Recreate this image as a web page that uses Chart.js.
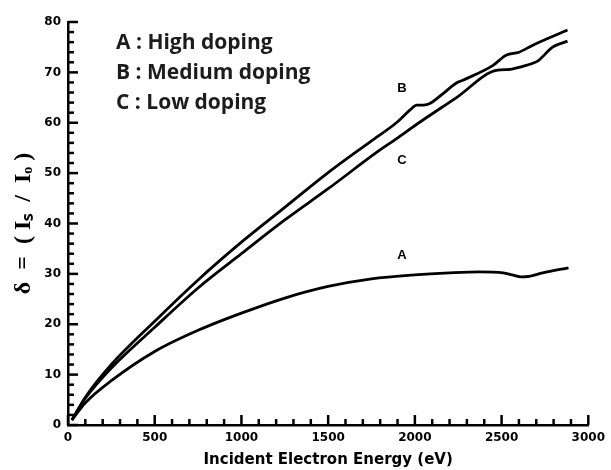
<!DOCTYPE html>
<html>
<head>
<meta charset="utf-8">
<script src="https://cdn.jsdelivr.net/npm/chart.js@4.4.1/dist/chart.umd.min.js"></script>
<style>
  html, body { margin: 0; padding: 0; background: #fff; }
  #wrap { width: 611px; height: 470px; }
</style>
</head>
<body>
<div id="wrap"><canvas id="yieldChart"></canvas></div>
<script>
// curve A : high doping
var energyA = [23, 100, 250, 500, 750, 1000, 1250, 1500, 1750, 2000, 2200, 2371, 2509, 2560, 2611, 2660, 2737, 2886];
var yieldA  = [1.0, 4.4, 8.8, 14.6, 18.8, 22.2, 25.2, 27.5, 29.0, 29.8, 30.2, 30.4, 30.2, 29.8, 29.4, 29.5, 30.2, 31.2];

// curve B : medium doping
var energyB = [23, 100, 250, 500, 750, 1000, 1250, 1500, 1750, 1897, 1971, 2011, 2050, 2086, 2166, 2240, 2280, 2451, 2526, 2600, 2680, 2880];
var yieldB  = [1.0, 5.5, 12.0, 20.6, 28.8, 36.3, 43.2, 50.1, 56.4, 60.1, 62.5, 63.5, 63.5, 63.8, 65.9, 67.9, 68.5, 71.4, 73.4, 74.0, 75.4, 78.4];

// curve C : low doping
var energyC = [23, 100, 250, 500, 750, 1000, 1250, 1500, 1783, 1897, 2011, 2240, 2469, 2550, 2600, 2680, 2714, 2794, 2880];
var yieldC  = [1.0, 5.3, 11.3, 19.4, 27.2, 34.0, 40.7, 46.9, 54.2, 56.9, 59.7, 65.0, 70.4, 70.6, 71.0, 71.8, 72.4, 75.0, 76.2];

var legendLines = ["A : High doping", "B : Medium doping", "C : Low doping"];
var curveTags = [
  {text: "A", x: 1926, y: 33.7},
  {text: "B", x: 1926, y: 66.9},
  {text: "C", x: 1926, y: 52.6}
];

function pts(xs, ys) {
  return xs.map(function (x, i) { return {x: x, y: ys[i]}; });
}

function curve(label, xs, ys) {
  return {
    label: label,
    data: pts(xs, ys),
    borderColor: '#000',
    borderWidth: 2.8,
    pointRadius: 0,
    cubicInterpolationMode: 'monotone',
    fill: false
  };
}

// inward tick marks, A/B/C tags and the key text
var decorations = {
  id: 'decorations',
  afterDraw: function (chart) {
    var ctx = chart.ctx;
    var xs = chart.scales.x, ys = chart.scales.y;
    var area = chart.chartArea;
    var bottom = ys.getPixelForValue(0);
    var left = xs.getPixelForValue(0);
    ctx.save();
    ctx.fillStyle = '#000';
    for (var e = 0; e <= 3000; e += 100) {
      var px = xs.getPixelForValue(e);
      var len = (e % 500 === 0) ? 10 : 6;
      ctx.fillRect(px - 1.25, bottom - len, 2.5, len);
    }
    for (var v = 0; v <= 80; v += 2) {
      var py = ys.getPixelForValue(v);
      var l2 = (v % 10 === 0) ? 10 : 6;
      ctx.fillRect(left, py - 1.25, l2, 2.5);
    }

    ctx.font = 'bold 13px "Liberation Sans", Arial, sans-serif';
    ctx.textAlign = 'center';
    ctx.textBaseline = 'middle';
    curveTags.forEach(function (t) {
      ctx.fillText(t.text, xs.getPixelForValue(t.x), ys.getPixelForValue(t.y));
    });

    ctx.fillStyle = '#1c1c1c';
    ctx.font = 'bold 21px "Open Sans", Lato, sans-serif';
    ctx.textAlign = 'left';
    legendLines.forEach(function (s, i) {
      ctx.fillText(s, area.left + 48, area.top + 21 + i * 30);
    });
    ctx.restore();
  }
};

var tickFont = { family: '"DejaVu Sans", sans-serif', size: 12, weight: 'bold' };

new Chart(document.getElementById('yieldChart'), {
  type: 'line',
  data: {
    datasets: [
      curve('A', energyA, yieldA),
      curve('B', energyB, yieldB),
      curve('C', energyC, yieldC)
    ]
  },
  options: {
    responsive: true,
    maintainAspectRatio: false,
    animation: false,
    layout: { padding: { top: 22, right: 18, left: 0, bottom: 0 } },
    plugins: { legend: { display: false }, tooltip: { enabled: false } },
    scales: {
      x: {
        type: 'linear',
        min: 0, max: 3000,
        afterFit: function (s) { s.height = 45; },
        ticks: {
          stepSize: 500,
          color: '#000',
          padding: 6,
          maxRotation: 0,
          font: tickFont,
          callback: function (val) { return String(val); }
        },
        grid: { drawOnChartArea: false, drawTicks: false },
        border: { color: '#000', width: 2.5 },
        title: {
          display: true,
          text: 'Incident Electron Energy (eV)',
          color: '#000',
          padding: { top: 0, bottom: 1 },
          font: { family: '"DejaVu Sans", sans-serif', size: 15, weight: 'bold' }
        }
      },
      y: {
        min: 0, max: 80,
        afterFit: function (s) { s.width = 68; },
        ticks: {
          stepSize: 10,
          color: '#000',
          padding: 7,
          font: tickFont
        },
        grid: { drawOnChartArea: false, drawTicks: false },
        border: { color: '#000', width: 2.5 },
        title: {
          display: true,
          text: 'δ  =  ( Iₛ  /  Iₒ )',
          color: '#000',
          padding: { top: 9, bottom: 0 },
          font: { family: '"Liberation Serif", serif', size: 24, weight: 'bold' }
        }
      }
    }
  },
  plugins: [decorations]
});
</script>
</body>
</html>
